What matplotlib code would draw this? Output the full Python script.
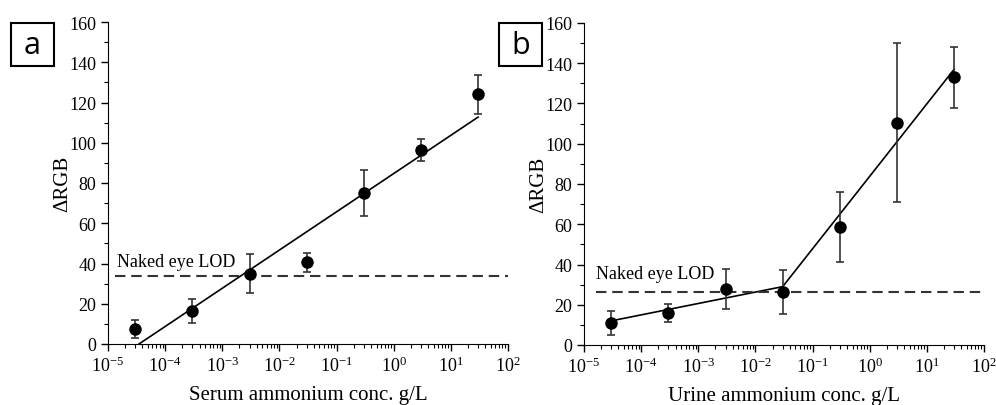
import numpy as np
import matplotlib.pyplot as plt
from matplotlib.ticker import LogLocator, MultipleLocator, NullFormatter

plt.rcParams['font.family'] = ['Liberation Serif', 'DejaVu Serif']
plt.rcParams['mathtext.fontset'] = 'stix'

# panel a: serum
conc = [3e-5, 3e-4, 3e-3, 3e-2, 3e-1, 3, 30]
serum_rgb = [7.5, 16.5, 35.0, 40.5, 75.0, 96.5, 124.0]
serum_err = [4.5, 6.0, 9.5, 4.5, 11.5, 5.5, 9.5]
serum_fit = (84.7, 19.0)      # intercept, slope vs log10(conc)
serum_fit_x = [3.5e-5, 30]
serum_lod = 34

# panel b: urine
urine_rgb = [11.0, 16.0, 28.0, 26.5, 58.5, 110.5, 133.0]
urine_err = [6.0, 4.5, 10.0, 11.0, 17.5, 39.5, 15.0]
urine_seg1 = ([3e-5, 3e-2], [12.0, 29.0])
urine_seg2 = ([3e-2, 30], [29.0, 137.0])
urine_lod = 26.5

fig = plt.figure(figsize=(9.96, 4.06), dpi=100)
W, H = 996, 406
ax1 = fig.add_axes([108 / W, 1 - 345 / H, 400 / W, 322 / H])
ax2 = fig.add_axes([584 / W, 1 - 346 / H, 400 / W, 322 / H])


def style(ax, xlabel):
    ax.set_xscale('log')
    ax.set_xlim(1e-5, 1e2)
    ax.set_ylim(0, 160)
    ax.spines['top'].set_visible(False)
    ax.spines['right'].set_visible(False)
    ax.xaxis.set_major_locator(LogLocator(base=10, numticks=20))
    ax.xaxis.set_minor_locator(LogLocator(base=10, subs=np.arange(2, 10), numticks=20))
    ax.xaxis.set_minor_formatter(NullFormatter())
    ax.yaxis.set_major_locator(MultipleLocator(20))
    ax.yaxis.set_minor_locator(MultipleLocator(10))
    ax.tick_params(which='major', length=5, width=1, labelsize=13, direction='out')
    ax.tick_params(which='minor', length=3, width=0.8, direction='out')
    ax.set_xlabel(xlabel, fontsize=15, labelpad=7)
    ax.set_ylabel('ΔRGB', fontsize=15, labelpad=-2)


dash = (0, (5, 2.8))

style(ax1, 'Serum ammonium conc. g/L')
xs = np.array(serum_fit_x)
ax1.plot(xs, serum_fit[0] + serum_fit[1] * np.log10(xs), color='black', lw=1.2)
ax1.errorbar(conc, serum_rgb, yerr=serum_err, fmt='o', color='black', ms=8,
             ecolor='#333333', elinewidth=1.2, capsize=3, capthick=1.2)
ax1.hlines(serum_lod, 1.3e-5, 1e2, colors='#333333', linestyles=dash, lw=1.5, clip_on=False)
ax1.text(1.45e-5, serum_lod + 3, 'Naked eye LOD', fontsize=13, va='bottom')

style(ax2, 'Urine ammonium conc. g/L')
ax2.plot(urine_seg1[0], urine_seg1[1], color='black', lw=1.2)
ax2.plot(urine_seg2[0], urine_seg2[1], color='black', lw=1.2)
ax2.errorbar(conc, urine_rgb, yerr=urine_err, fmt='o', color='black', ms=8,
             ecolor='#333333', elinewidth=1.2, capsize=3, capthick=1.2)
ax2.hlines(urine_lod, 1.6e-5, 1e2, colors='#333333', linestyles=dash, lw=1.5, clip_on=False)
ax2.text(1.6e-5, urine_lod + 5, 'Naked eye LOD', fontsize=13, va='bottom')

for lab, x0 in [('a', 11), ('b', 499)]:
    fig.text((x0 + 21.5) / W, 1 - 45.5 / H, lab, fontsize=22, family='Open Sans',
             ha='center', va='center')
    fig.add_artist(plt.Rectangle((x0 / W, 1 - 67 / H), 43 / W, 43 / H,
                                 transform=fig.transFigure, fill=False, lw=1.5, ec='black'))

fig.savefig('out.png', dpi=100)
